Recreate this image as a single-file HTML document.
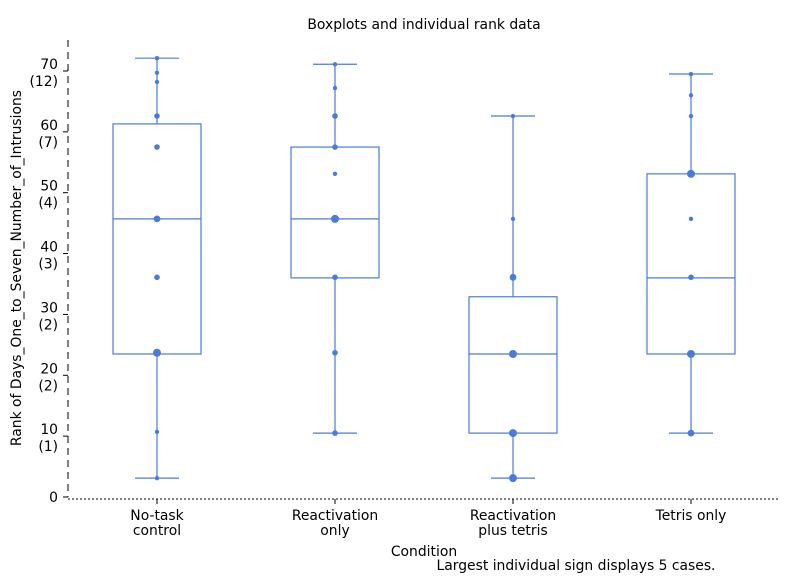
<!DOCTYPE html>
<html><head><meta charset="utf-8"><style>
body{margin:0;background:#fff;}
svg text{font-family:"DejaVu Sans","Liberation Sans",sans-serif;fill:#000;}
</style></head><body>
<svg id="chart" width="795" height="576" xmlns="http://www.w3.org/2000/svg">
<text x="424" y="29" font-size="13.9" text-anchor="middle">Boxplots and individual rank data</text>
<line x1="68" y1="40" x2="68" y2="497" stroke="#000" stroke-width="1" stroke-dasharray="7,5"/>
<line x1="68" y1="499" x2="780" y2="499" stroke="#000" stroke-width="1" stroke-dasharray="2,2"/>
<text transform="translate(21,268) rotate(-90)" font-size="13.9" text-anchor="middle">Rank of Days_One_to_Seven_Number_of_Intrusions</text>
<text x="424" y="556" font-size="13.9" text-anchor="middle">Condition</text>
<text x="576" y="570" font-size="13.9" text-anchor="middle">Largest individual sign displays 5 cases.</text>
<g id="yticks"></g><g id="xticks"></g><g id="marks"></g>
</svg>
<script>
const categories=["No-task\ncontrol","Reactivation\nonly","Reactivation\nplus tetris","Tetris only"];
const tickValues=[0,10,20,30,40,50,60,70];
const tickSub=["","(1)","(2)","(2)","(3)","(4)","(7)","(12)"];
const q1=[23.5,36,10.5,23.5];
const median=[45.7,45.7,23.5,36];
const q3=[61.3,57.5,32.9,53.1];
const whiskerLow=[3.1,10.5,3.1,10.5];
const whiskerHigh=[72.1,71.1,62.6,69.5];
const pointCat=[0,0,0,0,0,0,0,0,0,0, 1,1,1,1,1,1,1,1,1, 2,2,2,2,2,2, 3,3,3,3,3,3,3,3];
const pointVal=[72.1,69.7,68.2,62.6,57.5,45.7,36.1,23.7,10.7,3.1, 71.1,67.2,62.6,57.5,53.1,45.7,36.1,23.7,10.5, 62.6,45.7,36.1,23.5,10.5,3.1, 69.5,66,62.6,53.1,45.7,36.1,23.5,10.5];
const pointCount=[1,1,1,2,2,3,2,4,1,1, 1,1,2,2,1,4,2,2,2, 1,1,3,4,4,4, 1,1,1,4,1,2,4,3];
const NS="http://www.w3.org/2000/svg";
const y=v=>497-v*6.086;
const x=i=>157+i*178;
const col="#4a7bd8";
function mk(t,a,p){const e=document.createElementNS(NS,t);for(const k in a)e.setAttribute(k,a[k]);p.appendChild(e);return e;}
const yt=document.getElementById('yticks'),xt=document.getElementById('xticks'),mg=document.getElementById('marks');
tickValues.forEach((v,i)=>{
 const l=mk('line',{x1:63,x2:68,y1:y(v),y2:y(v),stroke:'#000'},yt);
 
 
 const t=mk('text',{x:58,y:tickSub[i]?y(v)-2:y(v)+5,'font-size':13.9,'text-anchor':'end'},yt);t.textContent=v;
 
 
 if(tickSub[i]){const s=mk('text',{x:58,y:y(v)+15,'font-size':13.9,'text-anchor':'end'},yt);s.textContent=tickSub[i];
 
 }
});
categories.forEach((c,i)=>{
 const tk=mk('line',{x1:x(i),x2:x(i),y1:499,y2:504,stroke:'#000'},xt);
 
 
 const t=mk('text',{x:x(i),y:520,'font-size':13.9,'text-anchor':'middle'},xt);
 
 
 c.split('\n').forEach((ln,j)=>{const s=mk('tspan',{x:x(i),dy:j?15:0},t);s.textContent=ln;});
 const g=mk('g',{},mg);
 
 
 const cx=x(i);
 mk('line',{x1:cx,x2:cx,y1:y(whiskerHigh[i]),y2:y(q3[i]),stroke:col,'stroke-width':1.2},g);
 mk('line',{x1:cx,x2:cx,y1:y(q1[i]),y2:y(whiskerLow[i]),stroke:col,'stroke-width':1.2},g);
 mk('line',{x1:cx-22,x2:cx+22,y1:y(whiskerHigh[i]),y2:y(whiskerHigh[i]),stroke:col,'stroke-width':1.2},g);
 mk('line',{x1:cx-22,x2:cx+22,y1:y(whiskerLow[i]),y2:y(whiskerLow[i]),stroke:col,'stroke-width':1.2},g);
 mk('rect',{x:cx-44,y:y(q3[i]),width:88,height:y(q1[i])-y(q3[i]),fill:'none',stroke:col,'stroke-width':1.2},g);
 mk('line',{x1:cx-44,x2:cx+44,y1:y(median[i]),y2:y(median[i]),stroke:col,'stroke-width':1.2},g);
});
pointVal.forEach((v,k)=>{
 const c=mk('circle',{cx:x(pointCat[k]),cy:y(v),r:1.6+0.6*pointCount[k],fill:col},mg);
 
 
});
</script>
</body></html>
